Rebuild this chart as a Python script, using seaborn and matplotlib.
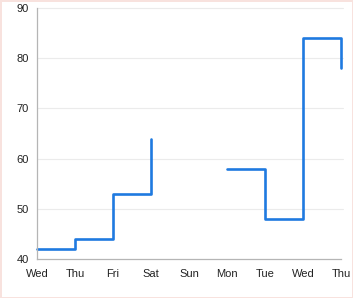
import numpy as np
import pandas as pd
import matplotlib
matplotlib.use("Agg")
import matplotlib.pyplot as plt
import seaborn as sns

days = ["Wed", "Thu", "Fri", "Sat", "Sun", "Mon", "Tue", "Wed", "Thu"]
values = [42, 44, 53, 64, np.nan, 58, 48, 84, 78]
y_ticks = [40, 50, 60, 70, 80, 90]

df = pd.DataFrame({"pos": np.arange(len(days)), "value": values})
# split into contiguous segments so the missing value breaks the line
seg = df["value"].isna().cumsum()
df["segment"] = seg
df = df.dropna()

sns.set_theme(style="white")
plt.rcParams["font.family"] = ["Liberation Sans", "DejaVu Sans"]

fig = plt.figure(figsize=(3.53, 2.98), dpi=100)
fig.patch.set_facecolor("white")
fig.patch.set_edgecolor("#f8e2de")
fig.patch.set_linewidth(1.0)
ax = fig.add_axes([37 / 353, 39 / 298, 304 / 353, 251 / 298])

sns.lineplot(data=df, x="pos", y="value", units="segment", ax=ax,
             drawstyle="steps-post", color="#1f7ae0", linewidth=1.9,
             estimator=None, sort=False)
for ln in ax.get_lines():
    ln.set_clip_on(False)

ax.set_xlim(0, len(days) - 1)
ax.set_ylim(40, 90)
ax.set_xticks(np.arange(len(days)))
ax.set_xticklabels(days)
ax.set_yticks(y_ticks)
ax.set_xlabel("")
ax.set_ylabel("")

for y in y_ticks[1:]:
    ax.axhline(y, color="#ebebeb", linewidth=0.8, zorder=0, xmax=1.006, clip_on=False)

for side in ["top", "right"]:
    ax.spines[side].set_visible(False)
for side in ["left", "bottom"]:
    ax.spines[side].set_color("#b5b5b5")
    ax.spines[side].set_linewidth(0.9)

ax.tick_params(axis="both", which="both", length=4, width=0.9, color="#b5b5b5",
               labelsize=8, labelcolor="#222222", direction="out")
ax.tick_params(axis="x", pad=3)
ax.tick_params(axis="y", pad=2)

fig.savefig("out.png", dpi=100)
